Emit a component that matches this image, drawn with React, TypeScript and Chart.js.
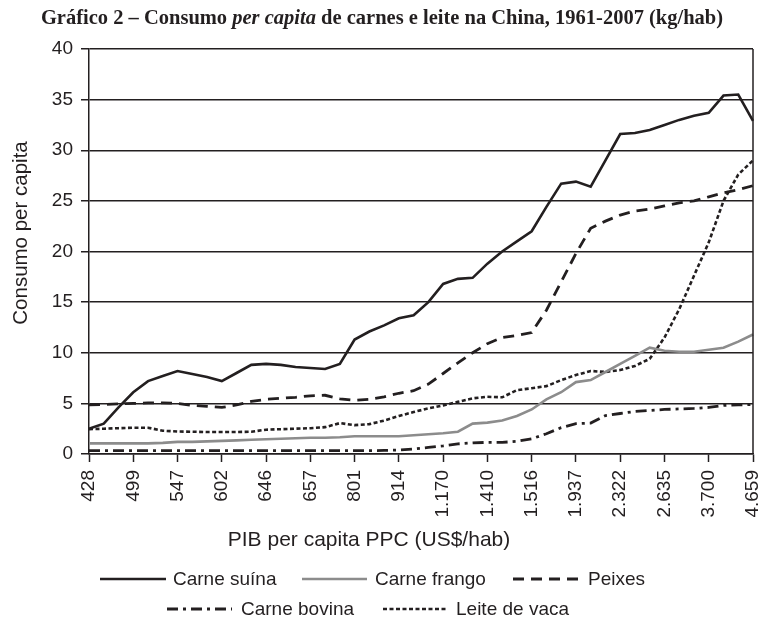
import React, { useEffect, useRef } from 'react';
import { Chart, registerables } from 'chart.js';

Chart.register(...registerables);

// ---------- data ----------
const tickLabels = ['428', '499', '547', '602', '646', '657', '801', '914', '1.170', '1.410', '1.516', '1.937', '2.322', '2.635', '3.700', '4.659'];
const labelEvery = 3;

const carneSuina = [2.5, 3.0, 4.6, 6.1, 7.2, 7.7, 8.2, 7.9, 7.6, 7.2, 8.0, 8.8, 8.9, 8.8, 8.6, 8.5, 8.4, 8.9, 11.3, 12.1, 12.7, 13.4, 13.7, 15.0, 16.8, 17.3, 17.4, 18.8, 20.0, 21.0, 22.0, 24.4, 26.7, 26.9, 26.4, 29.0, 31.6, 31.7, 32.0, 32.5, 33.0, 33.4, 33.7, 35.4, 35.5, 32.9];
const carneFrango = [1.05, 1.05, 1.05, 1.05, 1.05, 1.1, 1.2, 1.2, 1.25, 1.3, 1.35, 1.4, 1.45, 1.5, 1.55, 1.6, 1.6, 1.65, 1.75, 1.75, 1.75, 1.75, 1.85, 1.95, 2.05, 2.2, 3.0, 3.1, 3.3, 3.75, 4.4, 5.4, 6.1, 7.1, 7.3, 8.1, 8.9, 9.7, 10.5, 10.2, 10.1, 10.1, 10.3, 10.5, 11.1, 11.8];
const peixes = [4.85, 4.9, 4.95, 5.0, 5.05, 5.05, 5.0, 4.8, 4.7, 4.6, 4.85, 5.2, 5.4, 5.5, 5.6, 5.75, 5.8, 5.45, 5.3, 5.4, 5.65, 6.0, 6.25, 6.9, 7.95, 9.0, 10.0, 10.9, 11.5, 11.7, 12.0, 14.2, 17.0, 19.8, 22.3, 23.0, 23.6, 24.0, 24.2, 24.5, 24.8, 25.0, 25.4, 25.8, 26.1, 26.5];
const carneBovina = [0.33, 0.33, 0.33, 0.33, 0.33, 0.33, 0.33, 0.33, 0.33, 0.33, 0.33, 0.33, 0.33, 0.33, 0.33, 0.33, 0.33, 0.33, 0.33, 0.33, 0.35, 0.4, 0.5, 0.65, 0.8, 1.0, 1.1, 1.15, 1.15, 1.25, 1.5, 2.0, 2.6, 3.0, 3.05, 3.8, 4.0, 4.2, 4.3, 4.4, 4.45, 4.5, 4.6, 4.8, 4.85, 4.9];
const leiteVaca = [2.45, 2.5, 2.55, 2.6, 2.6, 2.3, 2.22, 2.2, 2.17, 2.17, 2.17, 2.2, 2.4, 2.45, 2.5, 2.55, 2.65, 3.05, 2.85, 2.95, 3.3, 3.75, 4.15, 4.5, 4.8, 5.15, 5.5, 5.65, 5.6, 6.3, 6.5, 6.7, 7.3, 7.8, 8.2, 8.1, 8.3, 8.7, 9.4, 11.5, 14.3, 17.6, 20.9, 25.0, 27.6, 29.0];

const seriesNames = ['Carne suína', 'Carne frango', 'Peixes', 'Carne bovina', 'Leite de vaca'];

const titleParts = [
  { text: 'Gráfico 2 – Consumo ', italic: false },
  { text: 'per capita', italic: true },
  { text: ' de carnes e leite na China, 1961-2007 (kg/hab)', italic: false },
];
const yTitle = 'Consumo per capita';
const xTitle = 'PIB per capita PPC (US$/hab)';

const categories = carneSuina.map((_, i) => (i % labelEvery === 0 ? tickLabels[i / labelEvery] : ''));

// ---------- styles ----------
const INK = '#231f20';
const GRAY = '#8c8c8c';
const SANS = '"Liberation Sans", Arial, sans-serif';
const SERIF = '"Liberation Serif", "Times New Roman", serif';

const W = 763;
const H = 626;
const AREA = { left: 89, right: 753, top: 49, bottom: 454 };
const X_SCALE_H = 70;
const Y_SCALE_W = 60;

// legend layout: [lineStart, lineEnd, textX, y]
const legendLayout = [
  [100, 166, 173, 579],
  [302, 367, 375, 579],
  [513, 580, 588, 579],
  [167, 232, 241, 609],
  [383, 448, 456, 609],
];

const decorPlugin = {
  id: 'decor',
  afterDraw(chart: any) {
    const { ctx, chartArea: a } = chart;
    ctx.save();
    // right border
    ctx.strokeStyle = INK;
    ctx.lineWidth = 1.5;
    ctx.setLineDash([]);
    ctx.beginPath();
    ctx.moveTo(a.right, a.top);
    ctx.lineTo(a.right, a.bottom);
    ctx.stroke();

    // title (mixed styles)
    ctx.fillStyle = INK;
    ctx.textBaseline = 'middle';
    ctx.textAlign = 'left';
    const fontFor = (it: boolean) => `${it ? 'italic ' : ''}bold 20.5px ${SERIF}`;
    let total = 0;
    for (const p of titleParts) {
      ctx.font = fontFor(p.italic);
      total += ctx.measureText(p.text).width;
    }
    let x = 382 - total / 2;
    for (const p of titleParts) {
      ctx.font = fontFor(p.italic);
      ctx.fillText(p.text, x, 19);
      x += ctx.measureText(p.text).width;
    }

    // axis titles
    ctx.textAlign = 'center';
    ctx.font = `21px ${SANS}`;
    ctx.fillText(xTitle, 369, 540);
    ctx.font = `20.5px ${SANS}`;
    ctx.save();
    ctx.translate(21, 233);
    ctx.rotate(-Math.PI / 2);
    ctx.fillText(yTitle, 0, 0);
    ctx.restore();

    // legend
    ctx.font = `19px ${SANS}`;
    ctx.textAlign = 'left';
    chart.data.datasets.forEach((ds: any, i: number) => {
      const [x1, x2, tx, y] = legendLayout[i];
      ctx.strokeStyle = ds.borderColor;
      ctx.lineWidth = ds.borderWidth;
      ctx.setLineDash(ds.borderDash || []);
      ctx.beginPath();
      ctx.moveTo(x1, y);
      ctx.lineTo(x2, y);
      ctx.stroke();
      ctx.setLineDash([]);
      ctx.fillStyle = INK;
      ctx.fillText(ds.label, tx, y + 1);
    });
    ctx.restore();
  },
};

export default function App() {
  const ref = useRef<HTMLCanvasElement | null>(null);

  useEffect(() => {
    if (!ref.current) return;
    const base = { pointRadius: 0, pointHoverRadius: 0, tension: 0, fill: false };
    const chart = new Chart(ref.current, {
      type: 'line',
      data: {
        labels: categories,
        datasets: [
          { ...base, label: seriesNames[0], data: carneSuina, borderColor: INK, borderWidth: 2.6 },
          { ...base, label: seriesNames[1], data: carneFrango, borderColor: GRAY, borderWidth: 2.6 },
          { ...base, label: seriesNames[2], data: peixes, borderColor: INK, borderWidth: 2.8, borderDash: [11, 7] },
          { ...base, label: seriesNames[3], data: carneBovina, borderColor: INK, borderWidth: 2.8, borderDash: [11, 5, 3, 5] },
          { ...base, label: seriesNames[4], data: leiteVaca, borderColor: INK, borderWidth: 2.6, borderDash: [4, 2.5] },
        ],
      },
      options: {
        responsive: false,
        animation: false,
        events: [],
        layout: {
          padding: {
            top: AREA.top,
            left: AREA.left - Y_SCALE_W,
            right: W - AREA.right,
            bottom: H - AREA.bottom - X_SCALE_H,
          },
        },
        plugins: {
          legend: { display: false },
          title: { display: false },
          tooltip: { enabled: false },
        },
        scales: {
          x: {
            type: 'category',
            offset: false,
            afterFit: (s: any) => {
              s.height = X_SCALE_H;
              s.paddingLeft = 0;
              s.paddingRight = 0;
            },
            border: { display: true, color: INK, width: 1.5 },
            grid: {
              drawOnChartArea: false,
              drawTicks: true,
              tickLength: 8,
              tickWidth: 1.5,
              tickColor: (c: any) => (c.index % labelEvery === 0 ? INK : 'rgba(0,0,0,0)'),
            },
            ticks: {
              autoSkip: false,
              minRotation: 90,
              maxRotation: 90,
              padding: 8,
              color: INK,
              font: { family: SANS, size: 19 },
              callback: (_v: any, i: number) => categories[i],
            },
          },
          y: {
            min: 0,
            max: 40,
            afterFit: (s: any) => {
              s.width = Y_SCALE_W;
              s.paddingTop = 0;
              s.paddingBottom = 0;
            },
            border: { display: true, color: INK, width: 1.5 },
            grid: {
              color: INK,
              lineWidth: 1.5,
              drawTicks: true,
              tickLength: 8,
            },
            ticks: {
              stepSize: 5,
              padding: 8,
              color: INK,
              font: { family: SANS, size: 19 },
            },
          },
        },
      },
      plugins: [decorPlugin],
    } as any);
    return () => chart.destroy();
  }, []);

  return (
    <div style={{ position: 'absolute', left: 0, top: 0, width: W, height: H, background: '#fff' }}>
      <canvas ref={ref} width={W} height={H} style={{ display: 'block' }} />
    </div>
  );
}
